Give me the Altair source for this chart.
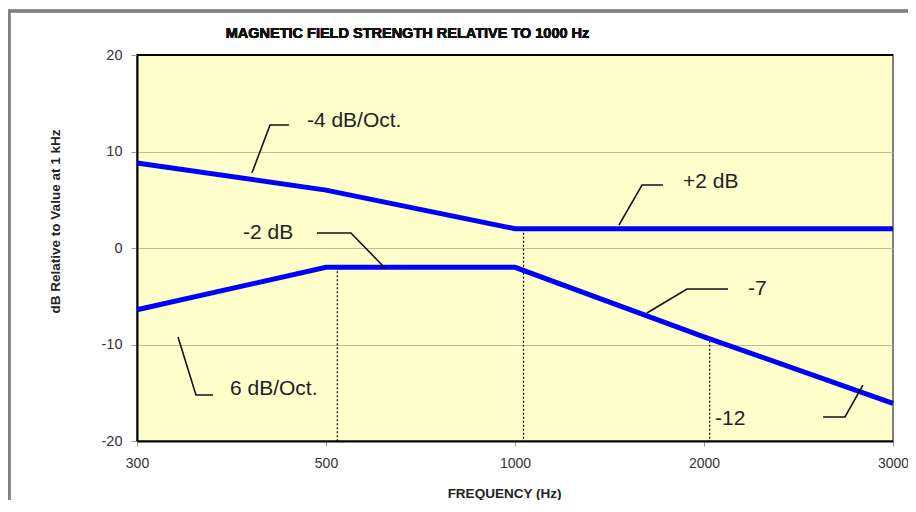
import altair as alt
import pandas as pd

# ---- data ----
freq_labels = ["300", "500", "1000", "2000", "3000"]
freq_pos = [0, 1, 2, 3, 4]
upper_db = [8.8, 6.0, 2.0, 2.0, 2.0]
lower_db = [-6.4, -2.0, -2.0, -9.2, -16.1]

# dotted drop lines (position on the frequency axis, top value)
drop_x = [1.06, 2.045, 3.03]
drop_top = [-2.0, 2.0, -9.2]
drop_bottom = [-20, -20, -20]

# annotation texts
ann_text = ["-4 dB/Oct.", "+2 dB", "-2 dB", "-7", "6 dB/Oct.", "-12"]
ann_x = [0.899, 2.889, 0.561, 3.233, 0.492, 3.058]
ann_y = [13.16, 6.89, 1.55, -4.25, -14.66, -17.77]

# leader lines (3 vertices each)
lead_id = [0, 0, 0, 1, 1, 1, 2, 2, 2, 3, 3, 3, 4, 4, 4, 5, 5, 5]
lead_seq = [0, 1, 2] * 6
lead_x = [0.804, 0.704, 0.608,
          2.783, 2.672, 2.550,
          0.952, 1.132, 1.312,
          3.127, 2.910, 2.698,
          0.217, 0.312, 0.402,
          3.630, 3.746, 3.841]
lead_y = [12.75, 12.75, 7.77,
          6.53, 6.53, 2.38,
          1.55, 1.55, -2.07,
          -4.25, -4.25, -6.74,
          -9.22, -15.23, -15.23,
          -17.51, -17.51, -14.20]

W, H = 756, 386
FONT = "Liberation Sans"

df_lines = pd.DataFrame({
    "x": freq_pos * 2,
    "y": upper_db + lower_db,
    "series": ["upper"] * 5 + ["lower"] * 5,
})
df_drop = pd.DataFrame({"x": drop_x, "y": drop_top, "y2": drop_bottom})
df_ann = pd.DataFrame({"x": ann_x, "y": ann_y, "label": ann_text})
df_lead = pd.DataFrame({"x": lead_x, "y": lead_y, "id": lead_id, "seq": lead_seq})

label_expr = "[" + ",".join("'%s'" % l for l in freq_labels) + "][datum.value]"

x_enc = alt.X(
    "x:Q",
    scale=alt.Scale(domain=[0, 4], nice=False, zero=False),
    axis=alt.Axis(
        values=freq_pos, labelExpr=label_expr, title="FREQUENCY (Hz)",
        grid=False, domainColor="black", domainWidth=2,
        tickColor="#999999", tickSize=5, labelPadding=10,
        labelFontSize=14, labelColor="#333333", labelFlush=False, labelOverlap=False,
        titleFontSize=13.5, titleFontWeight="bold", titleColor="#222222",
        titleX=367, titleY=52, titleBaseline="middle", titleAlign="center",
    ),
)
y_enc = alt.Y(
    "y:Q",
    scale=alt.Scale(domain=[-20, 20], nice=False, zero=False),
    axis=alt.Axis(
        values=[-20, -10, 0, 10, 20], labelExpr="'' + datum.value",
        title="dB Relative to Value at 1 kHz",
        grid=True, gridColor="#BDBD9C", gridWidth=1.2,
        domainColor="black", domainWidth=2,
        tickColor="#999999", tickSize=6, labelPadding=9,
        labelFontSize=14.5, labelColor="#333333", labelFlush=False,
        titleFontSize=13.5, titleFontWeight="bold", titleColor="#222222",
        titleX=-81.5, titleY=166, titleAngle=270,
        titleBaseline="middle", titleAlign="center",
    ),
)

lines = alt.Chart(df_lines).mark_line(color="#0000FF", strokeWidth=5, strokeJoin="miter").encode(
    x=x_enc, y=y_enc, detail="series:N"
)

drops = alt.Chart(df_drop).mark_rule(color="black", strokeWidth=1.2, strokeDash=[2, 2]).encode(
    x=x_enc, y=y_enc, y2="y2:Q"
)

leaders = alt.Chart(df_lead).mark_line(color="#111111", strokeWidth=1.6).encode(
    x=x_enc, y=y_enc, detail="id:N", order="seq:Q"
)

texts = alt.Chart(df_ann).mark_text(
    align="left", baseline="middle", fontSize=21, font=FONT, color="#222222"
).encode(x=x_enc, y=y_enc, text="label:N")

top_border = alt.Chart(df_ann).mark_rule(color="black", strokeWidth=1.5).encode(
    x=alt.value(0), x2=alt.value(W), y=alt.value(0)
)

frame_left = alt.Chart(df_ann).mark_rule(color="#808080", strokeWidth=2.5).encode(
    x=alt.value(-128), y=alt.value(-44), y2=alt.value(470)
)
frame_top = alt.Chart(df_ann).mark_rule(color="#808080", strokeWidth=2.5).encode(
    x=alt.value(-129), x2=alt.value(800), y=alt.value(-44)
)

title_text = alt.Chart(df_ann).mark_text(
    align="center", baseline="middle", fontSize=14.5, fontWeight="bold",
    font=FONT, color="#111111"
).encode(
    x=alt.value(270.5), y=alt.value(-21),
    text=alt.value("MAGNETIC FIELD STRENGTH RELATIVE TO 1000 Hz"),
)

chart = alt.layer(
    drops, lines, leaders, texts, top_border, frame_left, frame_top, title_text
).properties(
    width=W, height=H,
    autosize=alt.AutoSizeParams(type="none"),
    padding={"left": 129, "top": 47, "right": 15, "bottom": 59},
).configure(
    font=FONT, background="white"
).configure_view(
    fill="#FFFFCC", stroke="#808080", strokeWidth=2
)

chart.save("out.html", embed_options={"renderer": "svg", "actions": False})
